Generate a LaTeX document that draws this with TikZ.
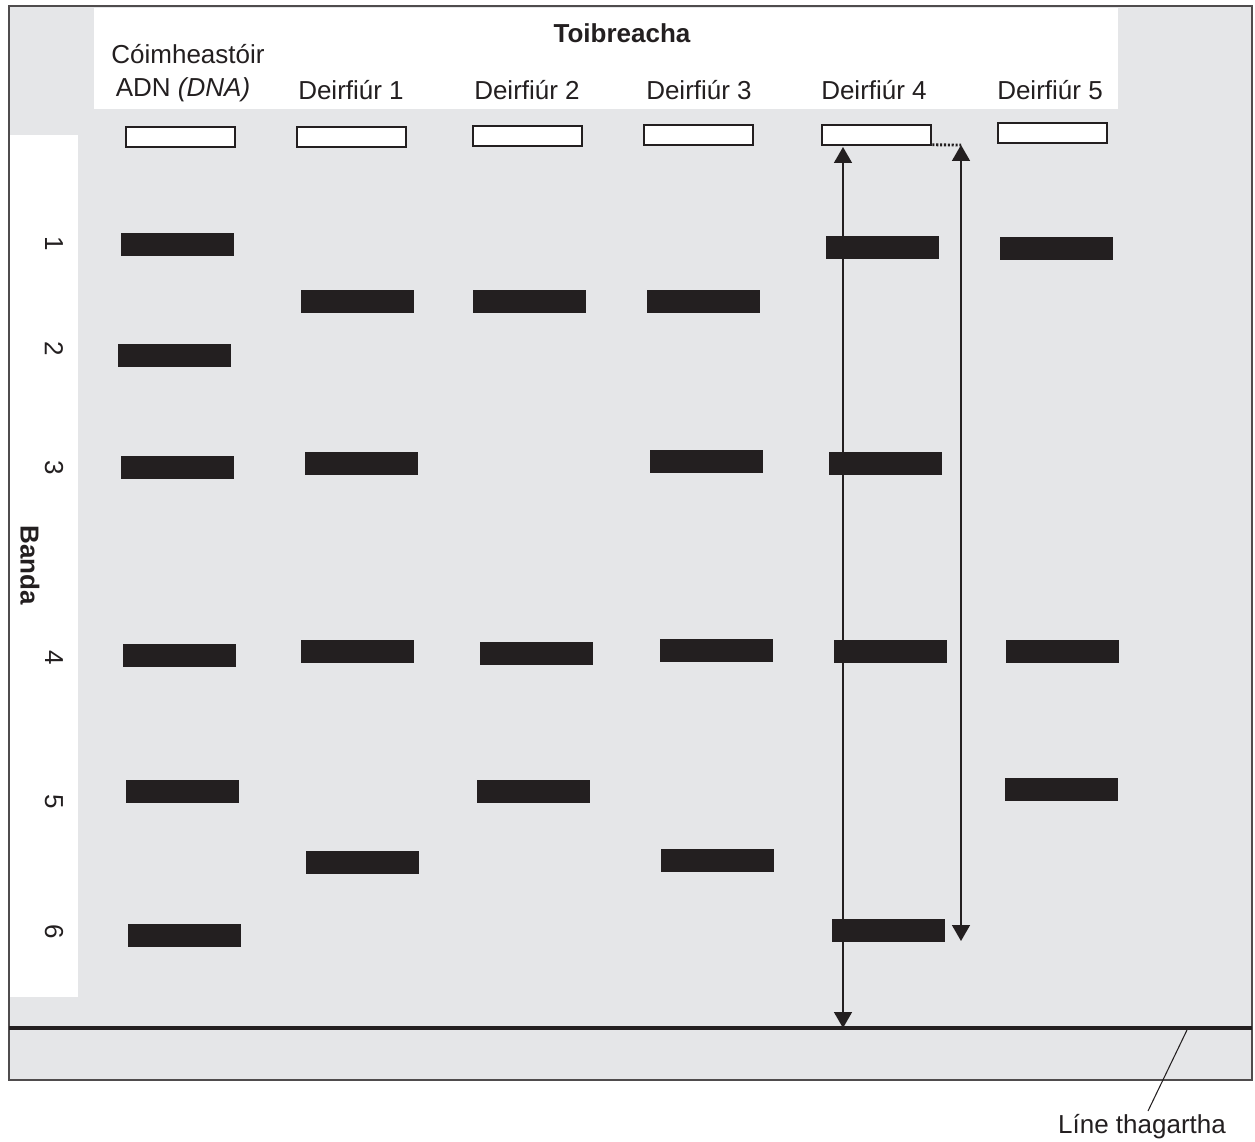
\documentclass[tikz,border=0pt]{standalone}
\usepackage{fontspec}
\setmainfont{Liberation Sans}
\usetikzlibrary{arrows.meta}
\definecolor{gelgray}{RGB}{229,230,232}
\definecolor{inkblack}{RGB}{35,31,32}
\tikzset{
  band/.style={fill=inkblack, draw=none, inner sep=0pt, minimum width=2.26cm, minimum height=0.46cm},
  well/.style={fill=white, draw=inkblack, line width=1.5pt, inner sep=0pt, minimum width=2.18cm, minimum height=0.40cm},
  lbl/.style={font=\fontsize{14.8}{17}\selectfont, inner sep=0pt, text=inkblack},
  measure/.style={draw=inkblack, line width=0.9pt, {Triangle[width=0.36cm,length=0.32cm]}-{Triangle[width=0.36cm,length=0.32cm]}}
}
\begin{document}
\begin{tikzpicture}[x=0.02cm, y=-0.02cm]
		\useasboundingbox (0,0) rectangle (1255,1142);

		% gel
		\fill[gelgray] (9,6) rectangle (1252,1080);
		\fill[white] (94,8) rectangle (1118,109);
		\fill[white] (9,135) rectangle (78,997);
		\draw[draw=inkblack!80, line width=0.8pt] (9,6) rectangle (1252,1080);

		% headings
		\node[lbl, font=\bfseries\fontsize{14.8}{17}\selectfont] (toib) at (622,33) {Toibreacha};
		\node[lbl] (coimh) at (188,54) {Cóimheastóir};
		\node[lbl] (adn) at (183,90) {ADN \textit{(DNA)}};
		\node[lbl] (deir1) at (351,90) {Deirfiúr 1};
		\node[lbl] (deir2) at (527,90) {Deirfiúr 2};
		\node[lbl] (deir3) at (699,90) {Deirfiúr 3};
		\node[lbl] (deir4) at (874,90) {Deirfiúr 4};
		\node[lbl] (deir5) at (1050,90) {Deirfiúr 5};

		% wells
		\foreach \x/\y [count=\i from 0] in {180.5/137, 351.5/137, 527.5/136, 698.5/135, 876.5/135, 1052.5/133}
			\node[well] (well\i) at (\x,\y) {};

		% band numbers
		\node[lbl, rotate=-90, font=\bfseries\fontsize{14.8}{17}\selectfont] (banda) at (30,565) {Banda};
		\foreach \y [count=\n] in {244, 349, 468, 658, 802, 932}
			\node[lbl, rotate=-90] (num\n) at (54,\y) {\n};

		% bands
		\foreach \x/\y [count=\i] in {177.5/244.5, 174.5/355.5, 177.5/467.5, 179.5/655.5, 182.5/791.5, 184.5/935.5}
			\node[band] (c0b\i) at (\x,\y) {};
		\foreach \x/\y [count=\i] in {357.5/301.5, 361.5/463.5, 357.5/651.5, 362.5/862.5}
			\node[band] (c1b\i) at (\x,\y) {};
		\foreach \x/\y [count=\i] in {529.5/301.5, 536.5/653.5, 533.5/791.5}
			\node[band] (c2b\i) at (\x,\y) {};
		\foreach \x/\y [count=\i] in {703.5/301.5, 706.5/461.5, 716.5/650.5, 717.5/860.5}
			\node[band] (c3b\i) at (\x,\y) {};
		\foreach \x/\y [count=\i] in {882.5/247.5, 885.5/463.5, 890.5/651.5, 888.5/930}
			\node[band] (c4b\i) at (\x,\y) {};
		\foreach \x/\y [count=\i] in {1056.5/248.5, 1062.5/651.5, 1061.5/789.5}
			\node[band] (c5b\i) at (\x,\y) {};

		% reference line
		\coordinate (refL) at (9,1028);
		\coordinate (refR) at (1252,1028);
		\draw[inkblack, line width=1.8pt] (refL) -- (refR);
		\node[lbl, anchor=base] (refname) at (1142,1133) {Líne thagartha};
		\coordinate (refpt) at (1187,1030);
		\coordinate (leadend) at (1148,1111);
		\draw[inkblack, line width=0.6pt] (leadend) -- (refpt);

		% distances measured
		\coordinate (wtop) at (843,147);
		\coordinate (wref) at (843,1028);
		\draw[measure] (wtop) -- (wref);
		\coordinate (dotend) at (961,145);
		\coordinate (bnd) at (961,941);
		\draw[inkblack, line width=1.6pt, dash pattern=on 1.2pt off 1pt] (well4.south east) ++(0,-1.5) -- (dotend);
		\draw[measure] (dotend) -- (bnd);

	\end{tikzpicture}
\end{document}
